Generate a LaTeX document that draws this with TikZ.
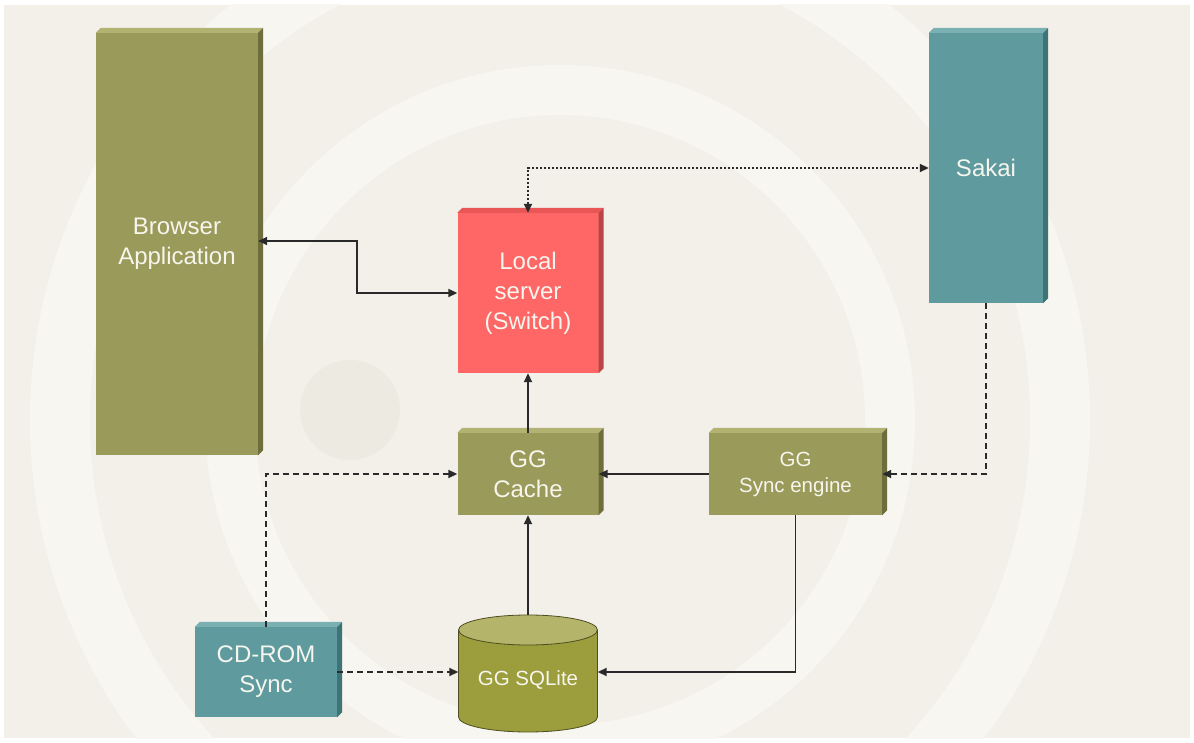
\documentclass[tikz,border=0pt]{standalone}
\usepackage{fontspec}
\setmainfont{Liberation Sans}
\usetikzlibrary{arrows.meta}
\definecolor{bg}{HTML}{F2F0E9}
\definecolor{ringc}{HTML}{F7F6F1}
\definecolor{dotc}{HTML}{EDEAE2}
\definecolor{olivef}{HTML}{9A9A5A}
\definecolor{olivet}{HTML}{B2B273}
\definecolor{olives}{HTML}{6E6E3C}
\definecolor{redf}{HTML}{FF6666}
\definecolor{redt}{HTML}{E85656}
\definecolor{reds}{HTML}{B84646}
\definecolor{tealf}{HTML}{5E9A9E}
\definecolor{tealt}{HTML}{7BB0B3}
\definecolor{teals}{HTML}{3E7478}
\definecolor{sqlbody}{HTML}{9C9D3C}
\definecolor{sqltop}{HTML}{B4B56A}
\definecolor{sqlline}{HTML}{4E4E22}
\definecolor{labelc}{HTML}{F6F6EE}
\definecolor{linec}{HTML}{2A2A2A}
\newcommand\mkextrude[3]{%
  \fill[#2] (#1.north west) -- ++(5,5) -- ([shift={(5,5)}]#1.north east) -- (#1.north east) -- cycle;
  \fill[#3] (#1.north east) -- ++(5,5) -- ([shift={(5,5)}]#1.south east) -- (#1.south east) -- cycle;}
\begin{document}
\begin{tikzpicture}[x=1pt,y=1pt,
  face/.style={inner sep=0pt, text=labelc, align=center, font=\fontsize{24}{30}\selectfont},
  smallface/.style={face, font=\fontsize{20.5}{26}\selectfont},
  conn/.style={draw=linec, line width=1.8pt, -{Triangle[length=9pt,width=8pt]}},
  both/.style={draw=linec, line width=1.8pt, {Triangle[length=9pt,width=8pt]}-{Triangle[length=9pt,width=8pt]}},
  dashedc/.style={conn, dash pattern=on 6pt off 4pt},
  dottedc/.style={both, dash pattern=on 2pt off 2pt}]
\fill[white] (0,0) rectangle (1194,742);
\fill[bg] (4,4) rectangle (1190,737);
\begin{scope}
  \clip (4,4) rectangle (1190,737);
  \draw[ringc, line width=60pt] (560,322) circle[radius=500];
  \draw[ringc, line width=50pt] (560,322) circle[radius=330];
  \fill[dotc] (350,332) circle[radius=50];
\end{scope}

% boxes
\node[face, fill=olivef, minimum width=162pt, minimum height=422pt] (browser) at (177,498) {Browser\\Application};
\mkextrude{browser}{olivet}{olives}
\node[face, fill=redf, minimum width=141pt, minimum height=160pt] (local) at (528,449) {Local\\server\\(Switch)};
\mkextrude{local}{redt}{reds}
\node[face, fill=tealf, minimum width=114pt, minimum height=270pt] (sakai) at (986,574) {Sakai};
\mkextrude{sakai}{tealt}{teals}
\node[face, fill=olivef, minimum width=141pt, minimum height=82pt] (cache) at (528,268) {GG\\Cache};
\mkextrude{cache}{olivet}{olives}
\node[smallface, fill=olivef, minimum width=173pt, minimum height=82pt] (sync) at (795.5,268) {GG\\Sync engine};
\mkextrude{sync}{olivet}{olives}
\node[face, fill=tealf, minimum width=142pt, minimum height=90pt] (cdrom) at (266,70) {CD-ROM\\Sync};
\mkextrude{cdrom}{tealt}{teals}

% cylinder
\node[inner sep=0pt, minimum width=139pt, minimum height=114pt] (sql) at (528,70) {};
\filldraw[fill=sqlbody, draw=sqlline, line width=0.8pt] (458.5,112) -- (458.5,25) arc[start angle=180,end angle=360,x radius=69.5,y radius=15] -- (597.5,112) -- cycle;
\filldraw[fill=sqltop, draw=sqlline, line width=0.8pt] (528,112) ellipse[x radius=69.5, y radius=15];
\node[smallface] (sqllabel) at (528,62) {GG SQLite};

% connectors
\draw[both] ([yshift=3pt]browser.east) -- ++(99,0) |- (local.west);
\draw[dottedc] (local.north) |- (sakai.west);
\draw[conn] (cache.north) -- (local.south);
\draw[conn] (sync.west) -- (cache.east);
\draw[dashedc] (sakai.south) |- (sync.east);
\draw[dashedc] (cdrom.north) |- (cache.west);
\draw[dashedc] (cdrom.east) -- (cdrom.east -| sql.west);
\draw[conn] (sql.north) -- (cache.south);
\draw[conn] (sync.south) |- (sql.east);
\end{tikzpicture}
\end{document}
